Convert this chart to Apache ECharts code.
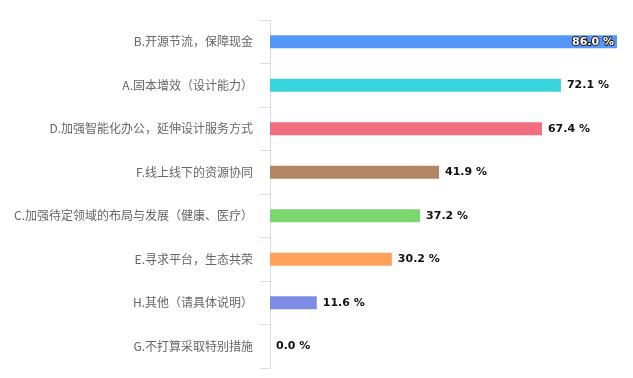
<!DOCTYPE html>
<html>
<head>
<meta charset="utf-8">
<script src="https://cdn.jsdelivr.net/npm/echarts@6/dist/echarts.min.js"></script>
<style>
  html, body { margin: 0; padding: 0; background: #fff; }
  #chart { width: 633px; height: 378px; }
</style>
</head>
<body>
<div id="chart"></div>
<script>
// 选项（自上而下）
var categories = [
  "B.开源节流，保障现金",
  "A.固本增效（设计能力）",
  "D.加强智能化办公，延伸设计服务方式",
  "F.线上线下的资源协同",
  "C.加强待定领域的布局与发展（健康、医疗）",
  "E.寻求平台，生态共荣",
  "H.其他（请具体说明）",
  "G.不打算采取特别措施"
];
var values = [86.0, 72.1, 67.4, 41.9, 37.2, 30.2, 11.6, 0.0];
var colors = ["#5596f9", "#38d3db", "#f26d7d", "#b38562", "#7bd670", "#ffa05c", "#7e8ce6", "#c0c0c0"];

var myChart = echarts.init(document.getElementById("chart"));

var barData = values.map(function (v, i) {
  var item = { value: v, itemStyle: { color: colors[i] } };
  if (i === 0) {
    // 最长的一条标签放在柱内
    item.label = {
      position: "insideRight",
      color: "#fff",
      textBorderColor: "#222",
      textBorderWidth: 2,
      offset: [3, 0]
    };
  }
  return item;
});

myChart.setOption({
  animation: false,
  grid: { left: 270, right: 16, top: 20, bottom: 10, containLabel: false },
  xAxis: {
    type: "value",
    min: 0,
    max: 86,
    show: false
  },
  yAxis: {
    type: "category",
    inverse: true,
    data: categories,
    axisLine: { show: true, lineStyle: { color: "#d6deeb" } },
    axisTick: { show: true, length: 10, lineStyle: { color: "#d6deeb" } },
    axisLabel: {
      color: "#666",
      fontSize: 12,
      margin: 17,
      fontFamily: "Noto Sans CJK SC"
    }
  },
  series: [
    {
      type: "bar",
      barWidth: 13,
      data: barData,
      label: {
        show: true,
        position: "right",
        distance: 6,
        color: "#111",
        fontSize: 11,
        fontWeight: "bold",
        fontFamily: "DejaVu Sans",
        formatter: function (p) {
          return p.value.toFixed(1) + " %";
        }
      }
    }
  ]
});

window.addEventListener("resize", function () {
  myChart.resize();
});
</script>
</body>
</html>
